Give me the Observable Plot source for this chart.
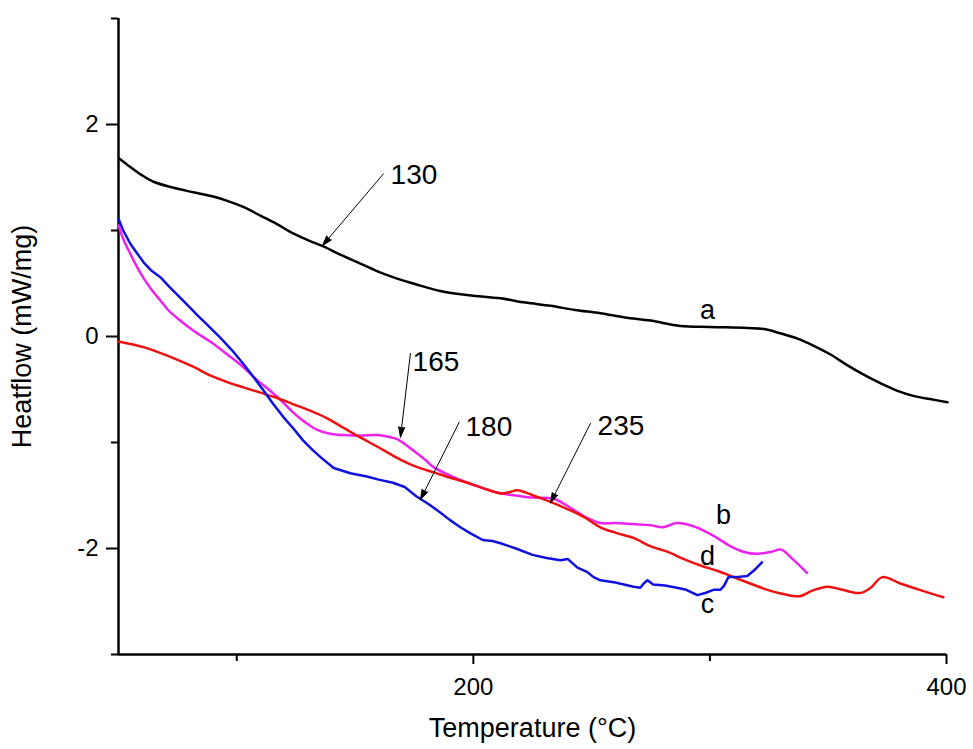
<!DOCTYPE html>
<html>
<head>
<meta charset="utf-8">
<script src="https://cdn.jsdelivr.net/npm/d3@7"></script>
<script src="https://cdn.jsdelivr.net/npm/@observablehq/plot@0.6"></script>
<style>
  html, body { margin: 0; padding: 0; background: white; }
  #chart svg { display: block; }
</style>
</head>
<body>
<div id="chart"></div>
<script>
// Curve a (black)
const aT = [50.3, 55, 60, 64.8, 72, 81.7, 90, 96, 103, 110, 117, 124, 130, 136.6, 144, 152, 159, 166, 176, 186, 198, 211.5, 222, 232.6, 243, 253.7, 264, 274.9, 287.5, 300, 315.8, 323, 329.8, 337, 343.7, 351, 358, 365, 372, 379, 386, 393, 400.4];
const aH = [1.68, 1.60, 1.52, 1.46, 1.41, 1.36, 1.32, 1.28, 1.22, 1.14, 1.06, 0.97, 0.91, 0.85, 0.77, 0.69, 0.62, 0.56, 0.49, 0.43, 0.39, 0.36, 0.32, 0.29, 0.25, 0.22, 0.18, 0.15, 0.10, 0.09, 0.08, 0.07, 0.03, -0.02, -0.085, -0.17, -0.27, -0.36, -0.44, -0.51, -0.56, -0.59, -0.62];
// Curve b (magenta)
const bT = [50, 52, 55, 58, 60.6, 64, 67.7, 71, 75, 82, 88.9, 96, 102.8, 108, 114, 119, 124, 129, 134, 140, 145, 152, 159.5, 165, 168, 172, 176, 180, 183, 190, 197.5, 204, 211.5, 218, 225, 234, 242, 248, 253.7, 260, 267.7, 275, 280, 286, 293, 299, 303, 308, 314, 320, 326, 330, 335, 341];
const bH = [1.05, 0.92, 0.78, 0.65, 0.55, 0.44, 0.34, 0.25, 0.17, 0.05, -0.05, -0.17, -0.29, -0.40, -0.51, -0.61, -0.72, -0.81, -0.88, -0.92, -0.93, -0.935, -0.93, -0.95, -0.97, -1.03, -1.10, -1.17, -1.23, -1.31, -1.38, -1.43, -1.48, -1.50, -1.52, -1.53, -1.63, -1.71, -1.76, -1.76, -1.77, -1.78, -1.80, -1.76, -1.79, -1.85, -1.90, -1.97, -2.03, -2.05, -2.03, -2.01, -2.10, -2.23];
// Curve c (blue)
const cT = [50, 52, 55, 58, 60.6, 64, 67.7, 71, 75, 79, 83.4, 88, 93, 98, 102.8, 107, 111.3, 115.5, 119.7, 124, 128, 132, 136, 141, 148, 155, 160, 166, 171, 176, 181, 186, 190, 194.5, 199, 204, 208, 211.5, 218, 225, 231, 236.8, 240, 244, 248, 250.8, 253.7, 260, 267.7, 270.6, 272, 273.6, 276, 281, 286, 290, 294.7, 298, 301.5, 304.4, 306, 307.8, 311, 315.8, 319, 322];
const cH = [1.11, 1.00, 0.875, 0.78, 0.70, 0.62, 0.56, 0.48, 0.39, 0.30, 0.20, 0.10, -0.01, -0.13, -0.26, -0.38, -0.51, -0.64, -0.76, -0.87, -0.98, -1.07, -1.15, -1.24, -1.29, -1.32, -1.35, -1.38, -1.42, -1.51, -1.58, -1.66, -1.73, -1.80, -1.86, -1.92, -1.93, -1.95, -2.00, -2.06, -2.09, -2.11, -2.10, -2.18, -2.22, -2.27, -2.30, -2.32, -2.36, -2.37, -2.33, -2.30, -2.34, -2.35, -2.37, -2.39, -2.44, -2.42, -2.39, -2.39, -2.35, -2.27, -2.27, -2.26, -2.20, -2.13];
// Curve d (red)
const dT = [50, 55, 60.6, 67, 75, 82, 89, 96, 102.8, 110, 117, 124, 131, 138, 145, 152, 159.5, 165, 170, 176, 183, 190, 197.5, 204, 211.5, 215, 218.6, 222, 225.4, 232.6, 240, 246.5, 253.7, 260, 267.7, 275, 282, 289, 296, 303, 310, 317, 324.3, 331, 338, 343, 349.7, 356, 363.6, 368, 372.9, 380.5, 390, 398.7];
const dH = [-0.05, -0.07, -0.10, -0.15, -0.22, -0.29, -0.37, -0.43, -0.48, -0.53, -0.58, -0.64, -0.70, -0.77, -0.86, -0.95, -1.04, -1.11, -1.17, -1.23, -1.28, -1.33, -1.38, -1.43, -1.48, -1.47, -1.45, -1.47, -1.50, -1.56, -1.63, -1.70, -1.80, -1.85, -1.90, -1.98, -2.03, -2.10, -2.16, -2.21, -2.27, -2.33, -2.39, -2.43, -2.45, -2.40, -2.36, -2.39, -2.42, -2.37, -2.27, -2.33, -2.40, -2.46];

// Annotation arrows (temperature labels) and curve letters
const annText = ["130", "165", "180", "235"];
const annTextT = [165, 174.3, 196.7, 252.5];
const annTextH = [1.52, -0.245, -0.857, -0.84];
const annFromT = [162, 173.4, 194, 249.5];
const annFromH = [1.535, -0.16, -0.81, -0.82];
const annToT = [136.2, 169.2, 177.6, 232.6];
const annToH = [0.857, -0.95, -1.54, -1.57];

const curveLetters = ["a", "b", "d", "c"];
const letterT = [299, 305.7, 299, 299];
const letterH = [0.245, -1.69, -2.07, -2.53];

const xMajor = [200, 400];
const xMinor = [100, 300];
const yMajor = [-2, 0, 2];
const yMinor = [-3, -1, 1, 3];

const rows = (T, H) => T.map((t, i) => ({t, h: H[i]}));
const arrows = annText.map((s, i) => ({x1: annFromT[i], y1: annFromH[i], x2: annToT[i], y2: annToH[i]}));
const numLabels = annText.map((s, i) => ({s, t: annTextT[i], h: annTextH[i]}));
const letters = curveLetters.map((s, i) => ({s, t: letterT[i], h: letterH[i]}));

const font = "'Liberation Sans', Arial, Helvetica, sans-serif";

const chart = Plot.plot({
  width: 973,
  height: 749,
  marginLeft: 118,
  marginRight: 27,
  marginTop: 18,
  marginBottom: 95,
  x: {domain: [50, 400]},
  y: {domain: [-3, 3]},
  style: {fontFamily: font, background: "white", color: "black"},
  marks: [
    Plot.axisX({ticks: xMajor, tickSize: 10, tickPadding: 13, fontSize: 24, strokeWidth: 2, label: null, tickFormat: d => String(d)}),
    Plot.axisX({ticks: xMinor, tickSize: 7, tickFormat: () => "", strokeWidth: 2, label: null}),
    Plot.axisY({ticks: yMajor, tickSize: 12, tickPadding: 8, fontSize: 24, strokeWidth: 2, label: null, tickFormat: d => String(d)}),
    Plot.axisY({ticks: yMinor, tickSize: 7, tickFormat: () => "", strokeWidth: 2, label: null}),
    Plot.ruleX([50], {strokeWidth: 2.5}),
    Plot.ruleY([-3], {strokeWidth: 2.5}),
    Plot.line(rows(aT, aH), {x: "t", y: "h", stroke: "#000000", strokeWidth: 2.5, curve: "catmull-rom"}),
    Plot.line(rows(bT, bH), {x: "t", y: "h", stroke: "#ee22ee", strokeWidth: 2.5, curve: "catmull-rom"}),
    Plot.line(rows(dT, dH), {x: "t", y: "h", stroke: "#ee1111", strokeWidth: 2.5, curve: "catmull-rom"}),
    Plot.line(rows(cT, cH), {x: "t", y: "h", stroke: "#1111dd", strokeWidth: 2.5}),
    Plot.arrow(arrows, {x1: "x1", y1: "y1", x2: "x2", y2: "y2", stroke: "#000", strokeWidth: 1, headLength: 16, headAngle: 34}),
    Plot.text(numLabels, {x: "t", y: "h", text: "s", textAnchor: "start", fontSize: 28, fill: "#000"}),
    Plot.text(letters, {x: "t", y: "h", text: "s", fontSize: 27, fill: "#000"}),
    Plot.text(["Temperature (°C)"], {frameAnchor: "bottom", dy: 74, lineAnchor: "middle", textAnchor: "middle", fontSize: 27, fill: "#000"}),
    Plot.text(["Heatflow (mW/mg)"], {frameAnchor: "left", dx: -96, rotate: -90, textAnchor: "middle", lineAnchor: "middle", fontSize: 27, fill: "#000"})
  ]
});

d3.select(chart).selectAll('g[aria-label="arrow"] path').attr("fill", "#000");
document.getElementById("chart").appendChild(chart);
</script>
</body>
</html>
